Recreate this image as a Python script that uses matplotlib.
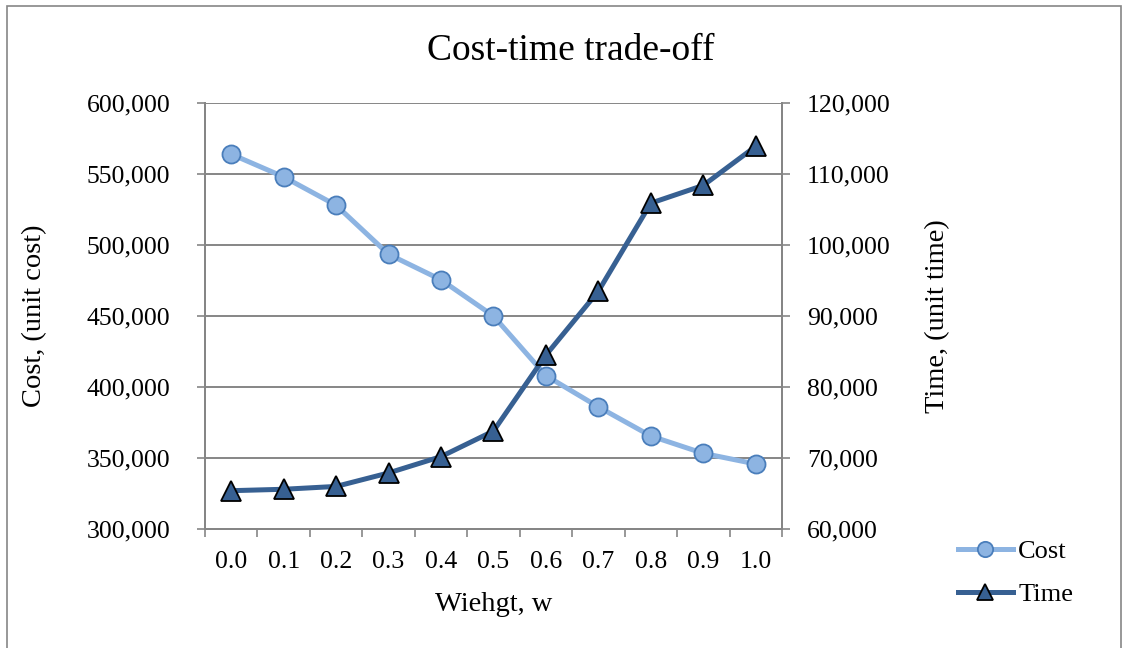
import matplotlib.pyplot as plt
import numpy as np
from matplotlib.patches import Rectangle
from matplotlib.ticker import FuncFormatter
from matplotlib.lines import Line2D

plt.rcParams['font.family'] = ['Liberation Serif', 'DejaVu Serif']

# weight values and the two objectives
weights = ['0.0', '0.1', '0.2', '0.3', '0.4', '0.5', '0.6', '0.7', '0.8', '0.9', '1.0']
cost = [564000, 548000, 528000, 493500, 475500, 450000, 408000, 386000, 365500, 353300, 345800]
time = [65400, 65600, 66000, 67900, 70200, 73800, 84500, 93500, 105900, 108400, 113900]

cost_color = '#8DB4E2'
cost_edge = '#4A7EBB'
time_color = '#376092'
grid_color = '#868686'

fig = plt.figure(figsize=(11.25, 6.48), dpi=100)
fig.patches.append(Rectangle((0.006, -0.01), 0.99, 1.0, transform=fig.transFigure,
                             fill=False, edgecolor=grid_color, linewidth=1.2))

ax = fig.add_axes([0.1822, 0.1836, 0.5129, 0.6574])
ax2 = ax.twinx()

x = np.arange(len(weights))
ax.plot(x, cost, color=cost_color, linewidth=3.6, marker='o', markersize=13,
        markerfacecolor=cost_color, markeredgecolor=cost_edge, markeredgewidth=1.3,
        zorder=3, clip_on=False)
ax2.plot(x, time, color=time_color, linewidth=3.6, marker='^', markersize=14,
         markerfacecolor=time_color, markeredgecolor='black', markeredgewidth=1.3,
         zorder=3, clip_on=False)

ax.set_xlim(-0.5, len(weights) - 0.5)
ax.set_ylim(300000, 600000)
ax2.set_ylim(60000, 120000)
ax.set_yticks(np.arange(300000, 600001, 50000))
ax2.set_yticks(np.arange(60000, 120001, 10000))
fmt = FuncFormatter(lambda v, p: f'{int(v):,}')
ax.yaxis.set_major_formatter(fmt)
ax2.yaxis.set_major_formatter(fmt)

# category labels in the middle, tick marks on the boundaries
ax.set_xticks(x)
ax.set_xticklabels(weights)
ax.set_xticks(np.arange(-0.5, len(weights)), minor=True)
ax.tick_params(axis='x', which='major', length=0, pad=16, labelsize=18.5)
ax.tick_params(axis='x', which='minor', length=6, width=1.2, color=grid_color, direction='out')
ax.tick_params(axis='y', length=6, width=1.2, color=grid_color, labelsize=18.5, pad=19)
ax2.tick_params(axis='y', length=6, width=1.2, color=grid_color, labelsize=18.5, pad=12)

ax.grid(axis='y', color=grid_color, linewidth=1.4)
ax.set_axisbelow(True)
for a in (ax, ax2):
    a.spines['top'].set_visible(False)
    for s in ('left', 'right', 'bottom'):
        a.spines[s].set_color(grid_color)
        a.spines[s].set_linewidth(1.4)

ax.set_xlabel('Wiehgt, w', fontsize=20.5)
ax.set_ylabel('Cost, (unit cost)', fontsize=20.5)
ax2.set_ylabel('Time, (unit time)', fontsize=20.5)
for lab in (ax.xaxis.label, ax.yaxis.label, ax2.yaxis.label):
    lab.set_va('center')
ax.xaxis.set_label_coords(0.5, -0.177)
ax.yaxis.set_label_coords(-0.295, 0.5)
ax2.yaxis.set_label_coords(1.27, 0.5)
fig.text(0.507, 0.922, 'Cost-time trade-off', fontsize=27, ha='center', va='center')

handles = [
    Line2D([], [], color=cost_color, linewidth=3.6, marker='o', markersize=11,
           markerfacecolor=cost_color, markeredgecolor=cost_edge, markeredgewidth=1.3),
    Line2D([], [], color=time_color, linewidth=3.6, marker='^', markersize=12,
           markerfacecolor=time_color, markeredgecolor='black', markeredgewidth=1.3),
]
fig.legend(handles, ['Cost', 'Time'], loc='center left', bbox_to_anchor=(0.83, 0.116),
           frameon=False, fontsize=19, handlelength=2.1, handletextpad=0.2,
           labelspacing=0.75)

fig.savefig('out.png', dpi=100)
